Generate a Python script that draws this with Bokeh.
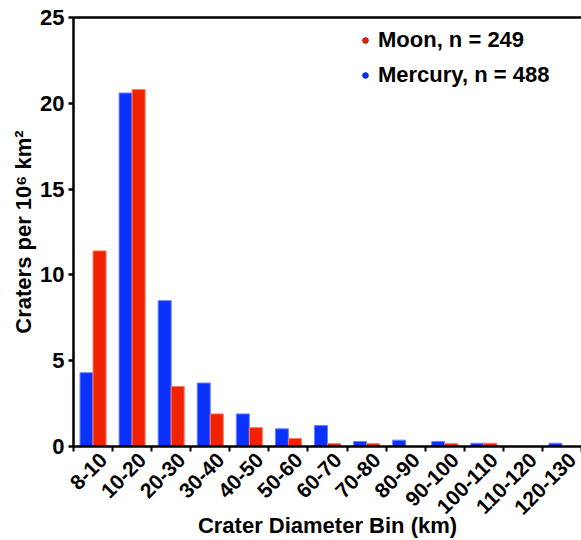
import numpy as np
from bokeh.plotting import figure
from bokeh.models import (ColumnDataSource, FixedTicker, LinearAxis, Range1d,
                          Legend, LegendItem, SingleIntervalTicker)
from bokeh.transform import dodge
from bokeh.embed import file_html
from bokeh.resources import INLINE

bins = ["8-10", "10-20", "20-30", "30-40", "40-50", "50-60", "60-70",
        "70-80", "80-90", "90-100", "100-110", "110-120", "120-130"]
mercury = [4.3, 20.6, 8.5, 3.7, 1.9, 1.03, 1.22, 0.29, 0.37, 0.29, 0.19, 0.0, 0.19]
moon = [11.4, 20.8, 3.5, 1.9, 1.1, 0.47, 0.17, 0.17, 0.0, 0.17, 0.19, 0.0, 0.0]
series_labels = ["Moon, n = 249", "Mercury, n = 488"]

BLUE = "#0a32ff"
RED = "#f02200"
FONT = "Liberation Sans"

pos = np.arange(len(bins)) + 0.5
src = ColumnDataSource(dict(x=pos, mercury=mercury, moon=moon))

p = figure(width=581, height=540, output_backend="svg", toolbar_location=None,
           x_range=Range1d(0, len(bins)), y_range=Range1d(0, 25),
           min_border_left=73, min_border_right=0, min_border_top=17,
           min_border_bottom=94, outline_line_color=None)
p.grid.visible = False

p.vbar(x=dodge("x", -1/6, range=p.x_range), top="mercury", width=1/3, source=src,
       fill_color=BLUE, line_color="#6f80ff", line_width=1)
p.vbar(x=dodge("x", 1/6, range=p.x_range), top="moon", width=1/3, source=src,
       fill_color=RED, line_color="#ff7a66", line_width=1)

# legend markers (renderers with no visible point)
r_moon = p.scatter(x=[np.nan], y=[np.nan], marker="circle", size=9,
                   fill_color=RED, line_color="#a01000")
r_merc = p.scatter(x=[np.nan], y=[np.nan], marker="circle", size=9,
                   fill_color=BLUE, line_color="#0020a0")
legend = Legend(items=[LegendItem(label=series_labels[0], renderers=[r_moon], index=0),
                       LegendItem(label=series_labels[1], renderers=[r_merc], index=0)],
                location=(285, 358), orientation="vertical",
                glyph_width=14, glyph_height=14, label_height=26, spacing=9,
                label_standoff=6, padding=0, margin=0,
                border_line_color=None, background_fill_color=None,
                label_text_font=FONT, label_text_font_style="bold",
                label_text_font_size="22px", label_text_color="black")
p.add_layout(legend)

# y axis
ya = p.yaxis[0]
ya.ticker = SingleIntervalTicker(interval=5, num_minor_ticks=0)
ya.axis_label = "Craters per 10\u2076 km\u00b2"
ya.axis_label_text_font = FONT
ya.axis_label_text_font_style = "bold"
ya.axis_label_text_font_size = "22px"
ya.axis_label_text_color = "black"
ya.axis_label_standoff = 1
ya.major_label_text_font = FONT
ya.major_label_text_font_style = "bold"
ya.major_label_text_font_size = "22px"
ya.major_label_text_color = "black"
ya.major_label_standoff = 4
ya.axis_line_width = 2.5
ya.major_tick_line_width = 2.5
ya.major_tick_out = 5
ya.major_tick_in = 0
ya.minor_tick_line_color = None

# x axis: labels placed just right of each category centre, tick marks at bin edges
off = 0.27
label_ticks = [round(float(v) + off, 3) for v in pos]
xa = p.xaxis[0]
xa.ticker = FixedTicker(ticks=label_ticks,
                        minor_ticks=[float(v) for v in range(len(bins) + 1)])
xa.major_label_overrides = {t: b for t, b in zip(label_ticks, bins)}
xa.major_label_orientation = np.pi / 4
xa.major_label_text_font = FONT
xa.major_label_text_font_style = "bold"
xa.major_label_text_font_size = "21px"
xa.major_label_text_color = "black"
xa.major_label_standoff = 5
xa.major_tick_line_color = None
xa.major_tick_out = 5
xa.minor_tick_line_width = 2
xa.minor_tick_line_color = "black"
xa.minor_tick_out = 5
xa.minor_tick_in = 0
xa.axis_line_width = 2.5
xa.axis_label = "Crater Diameter Bin (km)"
xa.axis_label_text_font = FONT
xa.axis_label_text_font_style = "bold"
xa.axis_label_text_font_size = "22px"
xa.axis_label_text_color = "black"
xa.axis_label_standoff = -11

# top frame line
top = LinearAxis(ticker=FixedTicker(ticks=[]), axis_line_width=2.5,
                 major_tick_line_color=None, minor_tick_line_color=None,
                 major_label_text_font_size="0px")
p.add_layout(top, "above")

open("out.html", "w").write(file_html(p, INLINE))
